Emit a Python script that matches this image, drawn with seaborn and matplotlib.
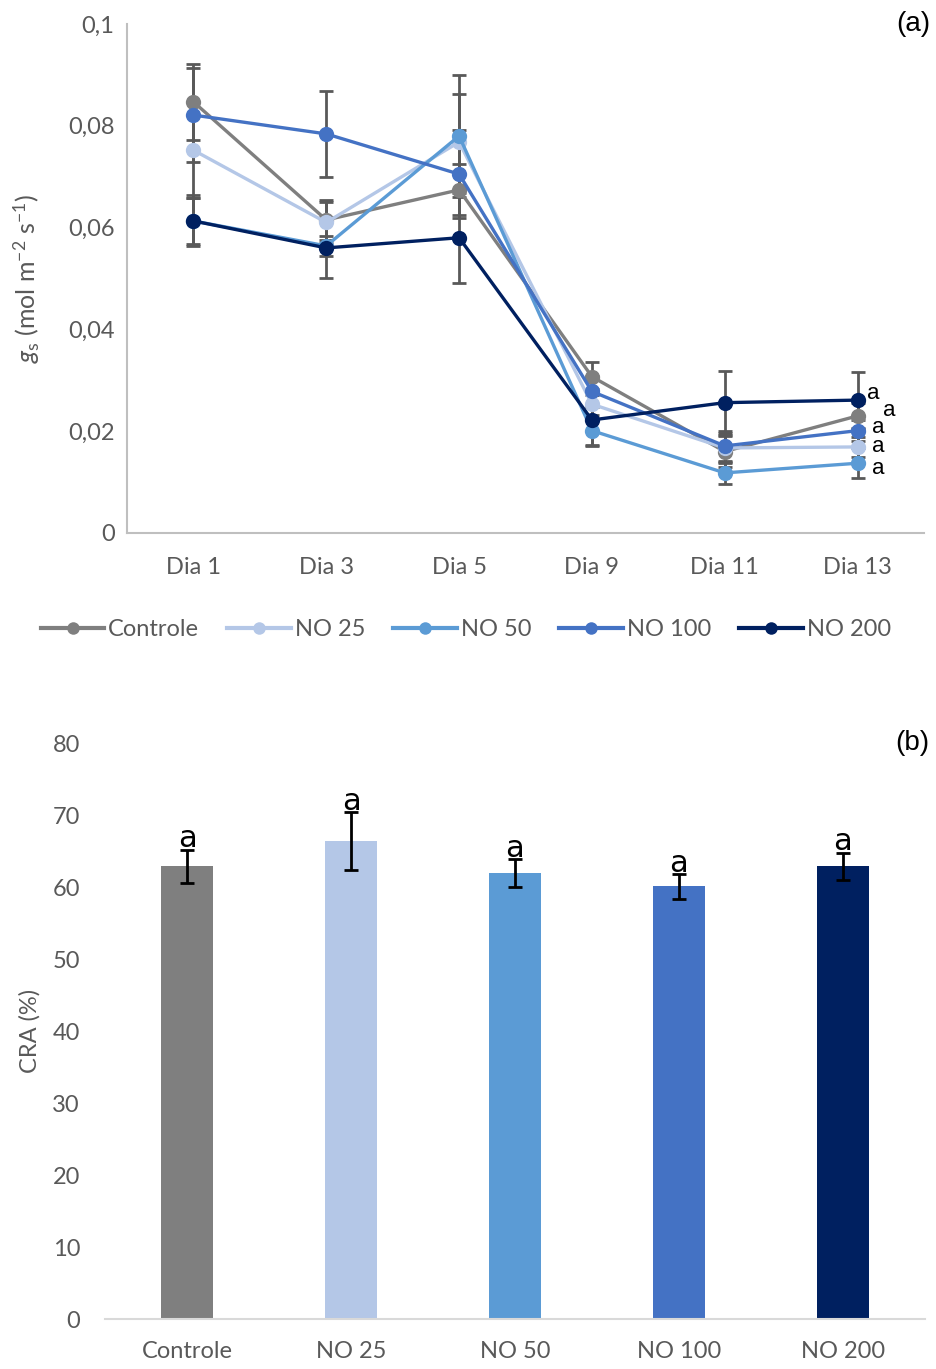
import numpy as np
import pandas as pd
import matplotlib
matplotlib.use('Agg')
import matplotlib.pyplot as plt
from matplotlib.lines import Line2D
import seaborn as sns

dias = ['Dia 1', 'Dia 3', 'Dia 5', 'Dia 9', 'Dia 11', 'Dia 13']
tratamentos = ['Controle', 'NO 25', 'NO 50', 'NO 100', 'NO 200']
cores = ['#7f7f7f', '#b4c7e7', '#5b9bd5', '#4472c4', '#002060']

# (a) condutancia estomatica
gs_controle = [0.0847, 0.0615, 0.0674, 0.0307, 0.0160, 0.0230]
gs_no25 = [0.0752, 0.0610, 0.0768, 0.0253, 0.0167, 0.0169]
gs_no50 = [0.0613, 0.0564, 0.0780, 0.0201, 0.0118, 0.0137]
gs_no100 = [0.0821, 0.0784, 0.0705, 0.0278, 0.0171, 0.0201]
gs_no200 = [0.0613, 0.0560, 0.0580, 0.0222, 0.0256, 0.0261]

err_controle = [0.0075, 0.0040, 0.0050, 0.0028, 0.0030, 0.0025]
err_no25 = [0.0094, 0.0040, 0.0094, 0.0030, 0.0030, 0.0020]
err_no50 = [0.0050, 0.0020, 0.0120, 0.0030, 0.0022, 0.0030]
err_no100 = [0.0092, 0.0084, 0.0087, 0.0030, 0.0030, 0.0020]
err_no200 = [0.0045, 0.0060, 0.0088, 0.0050, 0.0063, 0.0055]

letras_a = ['a', 'a', 'a', 'a', 'a']

# (b) conteudo relativo de agua
cra = [62.9, 66.4, 61.9, 60.1, 62.9]
cra_err = [2.3, 4.0, 1.95, 1.7, 1.9]
letras_b = ['a', 'a', 'a', 'a', 'a']

plt.rcParams['font.family'] = ['Lato', 'DejaVu Sans']
plt.rcParams['mathtext.fontset'] = 'custom'
plt.rcParams['mathtext.rm'] = 'Lato'
plt.rcParams['mathtext.it'] = 'Lato:italic'
cinza = '#595959'

series = [gs_controle, gs_no25, gs_no50, gs_no100, gs_no200]
erros = [err_controle, err_no25, err_no50, err_no100, err_no200]
df = pd.DataFrame({
    'dia': dias * len(tratamentos),
    'gs': np.concatenate(series),
    'trat': np.repeat(tratamentos, len(dias)),
})

fig = plt.figure(figsize=(9.36, 13.69), dpi=100)
ax = fig.add_axes([0.1357, 0.6107, 0.8515, 0.3718])
ax2 = fig.add_axes([0.1122, 0.0365, 0.876, 0.4207])

#-----(a)-----
for s, e in zip(series, erros):
    ax.errorbar(dias, s, yerr=e, fmt='none', ecolor=cinza, elinewidth=2,
                capsize=5, capthick=2, zorder=1)
sns.lineplot(data=df, x='dia', y='gs', hue='trat', palette=cores, marker='o',
             markersize=11, markeredgewidth=0, linewidth=2.4, legend=False,
             sort=False, ax=ax, zorder=3)

offs = [(23, 4), (15, 0), (15, -4), (15, 2), (11, 5)]
for s, l, o in zip(series, letras_a, offs):
    ax.annotate(l, xy=(dias[-1], s[-1]), xytext=o, textcoords='offset points',
                ha='center', va='center', fontsize=16, color='black',
                family='Liberation Sans')

ax.set_xlim(-0.5, 5.5)
ax.set_ylim(0, 0.1)
ax.set_yticks([0, 0.02, 0.04, 0.06, 0.08, 0.1])
ax.set_yticklabels(['0', '0,02', '0,04', '0,06', '0,08', '0,1'])
ax.set_xlabel('')
ax.set_ylabel(r'$\mathit{g}_\mathrm{s}$ (mol m$^{-2}$ s$^{-1}$)', fontsize=18, color=cinza)
ax.yaxis.set_label_coords(-0.107, 0.5)
ax.tick_params(length=0, labelsize=17, labelcolor=cinza)
ax.tick_params(axis='x', pad=17)
ax.tick_params(axis='y', pad=9)
for sp in ['top', 'right']:
    ax.spines[sp].set_visible(False)
for sp in ['left', 'bottom']:
    ax.spines[sp].set_color('#bfbfbf')
    ax.spines[sp].set_linewidth(1.5)

handles = [Line2D([], [], color=c, marker='o', markersize=9, markeredgewidth=0, linewidth=3)
           for c in cores]
ax.legend(handles, tratamentos, loc='center', bbox_to_anchor=(0.425, -0.19), ncol=5,
          frameon=False, fontsize=17, labelcolor=cinza, handlelength=2.7,
          handletextpad=0.15, columnspacing=1.2)
ax.text(1.0075, 1.0, '(a)', transform=ax.transAxes, ha='right', va='center', fontsize=20,
        color='black', family='Liberation Sans')

#-----(b)-----
sns.barplot(x=tratamentos, y=cra, hue=tratamentos, palette=cores, width=0.32,
            saturation=1, legend=False, ax=ax2)
ax2.errorbar(tratamentos, cra, yerr=cra_err, fmt='none', ecolor='black', elinewidth=2,
             capsize=5, capthick=2)
for t, v, e, l in zip(tratamentos, cra, cra_err, letras_b):
    ax2.text(t, v + e - 0.5, l, ha='center', va='bottom', fontsize=22,
             color='black', family='Liberation Sans Narrow')
ax2.set_xlim(-0.5, 4.5)
ax2.set_ylim(0, 80)
ax2.set_yticks(range(0, 81, 10))
ax2.set_ylabel('CRA (%)', fontsize=17, color=cinza)
ax2.yaxis.set_label_coords(-0.079, 0.5)
ax2.tick_params(length=0, labelsize=17, labelcolor=cinza)
ax2.tick_params(axis='x', pad=16)
ax2.tick_params(axis='y', pad=18)
for sp in ['top', 'right', 'left']:
    ax2.spines[sp].set_visible(False)
ax2.spines['bottom'].set_color('#d9d9d9')
ax2.spines['bottom'].set_linewidth(1.5)
ax2.text(1.006, 1.0, '(b)', transform=ax2.transAxes, ha='right', va='center', fontsize=20,
         color='black', family='Liberation Sans')

plt.savefig('out.png', dpi=100)
